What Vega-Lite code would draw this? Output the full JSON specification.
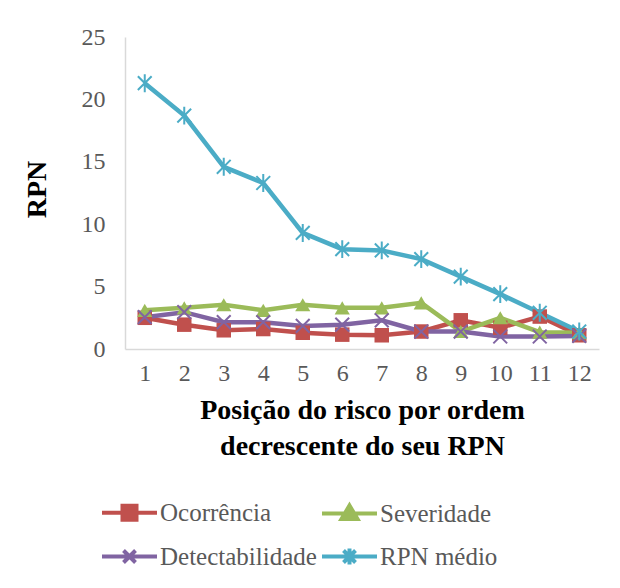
{
  "$schema": "https://vega.github.io/schema/vega-lite/v6.json",
  "width": 474,
  "height": 312,
  "padding": {"left": 23, "top": 25, "right": 10, "bottom": 5},
  "background": "white",
  "config": {
    "view": {"stroke": null},
    "font": "Liberation Serif",
    "legend": {"labelFont": "Liberation Serif", "padding": 0}
  },
  "data": {
    "values": [
      {"pos": 1, "series": "Ocorrência", "value": 2.5},
      {"pos": 2, "series": "Ocorrência", "value": 1.95},
      {"pos": 3, "series": "Ocorrência", "value": 1.5},
      {"pos": 4, "series": "Ocorrência", "value": 1.6},
      {"pos": 5, "series": "Ocorrência", "value": 1.3},
      {"pos": 6, "series": "Ocorrência", "value": 1.15},
      {"pos": 7, "series": "Ocorrência", "value": 1.1},
      {"pos": 8, "series": "Ocorrência", "value": 1.4},
      {"pos": 9, "series": "Ocorrência", "value": 2.3},
      {"pos": 10, "series": "Ocorrência", "value": 1.7},
      {"pos": 11, "series": "Ocorrência", "value": 2.6},
      {"pos": 12, "series": "Ocorrência", "value": 1.1},
      {"pos": 1, "series": "Severidade", "value": 3.1},
      {"pos": 2, "series": "Severidade", "value": 3.3},
      {"pos": 3, "series": "Severidade", "value": 3.55},
      {"pos": 4, "series": "Severidade", "value": 3.1},
      {"pos": 5, "series": "Severidade", "value": 3.55},
      {"pos": 6, "series": "Severidade", "value": 3.3},
      {"pos": 7, "series": "Severidade", "value": 3.3},
      {"pos": 8, "series": "Severidade", "value": 3.7},
      {"pos": 9, "series": "Severidade", "value": 1.4},
      {"pos": 10, "series": "Severidade", "value": 2.5},
      {"pos": 11, "series": "Severidade", "value": 1.35},
      {"pos": 12, "series": "Severidade", "value": 1.3},
      {"pos": 1, "series": "Detectabilidade", "value": 2.55},
      {"pos": 2, "series": "Detectabilidade", "value": 2.95},
      {"pos": 3, "series": "Detectabilidade", "value": 2.15},
      {"pos": 4, "series": "Detectabilidade", "value": 2.15},
      {"pos": 5, "series": "Detectabilidade", "value": 1.85},
      {"pos": 6, "series": "Detectabilidade", "value": 1.95},
      {"pos": 7, "series": "Detectabilidade", "value": 2.3},
      {"pos": 8, "series": "Detectabilidade", "value": 1.4},
      {"pos": 9, "series": "Detectabilidade", "value": 1.4},
      {"pos": 10, "series": "Detectabilidade", "value": 1.0},
      {"pos": 11, "series": "Detectabilidade", "value": 1.0},
      {"pos": 12, "series": "Detectabilidade", "value": 1.05},
      {"pos": 1, "series": "RPN médio", "value": 21.3},
      {"pos": 2, "series": "RPN médio", "value": 18.7},
      {"pos": 3, "series": "RPN médio", "value": 14.6},
      {"pos": 4, "series": "RPN médio", "value": 13.3},
      {"pos": 5, "series": "RPN médio", "value": 9.3},
      {"pos": 6, "series": "RPN médio", "value": 8.0},
      {"pos": 7, "series": "RPN médio", "value": 7.9},
      {"pos": 8, "series": "RPN médio", "value": 7.2},
      {"pos": 9, "series": "RPN médio", "value": 5.8},
      {"pos": 10, "series": "RPN médio", "value": 4.4},
      {"pos": 11, "series": "RPN médio", "value": 2.9},
      {"pos": 12, "series": "RPN médio", "value": 1.4}
    ]
  },
  "encoding": {
    "x": {
      "field": "pos",
      "type": "ordinal",
      "scale": {"type": "point", "padding": 0.5},
      "axis": {
        "title": ["Posição do risco por ordem", "decrescente do seu RPN"],
        "titleFontSize": 28,
        "titleFontWeight": "bold",
        "titleColor": "#000000",
        "titleLineHeight": 36,
        "titlePadding": 11,
        "labelAngle": 0,
        "labelFontSize": 24,
        "labelColor": "#595959",
        "labelPadding": 12,
        "ticks": false,
        "domainColor": "#D9D9D9",
        "domainWidth": 1.5,
        "grid": false
      }
    },
    "y": {
      "field": "value",
      "type": "quantitative",
      "scale": {"domain": [0, 25], "nice": false},
      "axis": {
        "title": "RPN",
        "titleFontSize": 28,
        "titleFontWeight": "bold",
        "titleColor": "#000000",
        "titlePadding": 30,
        "titleY": 152,
        "values": [0, 5, 10, 15, 20, 25],
        "labelFontSize": 24,
        "labelColor": "#595959",
        "labelPadding": 20,
        "ticks": false,
        "domainColor": "#D9D9D9",
        "domainWidth": 1.5,
        "grid": false
      }
    }
  },
  "layer": [
    {
      "mark": {"type": "line", "strokeWidth": 4.5},
      "encoding": {
        "color": {
          "field": "series",
          "type": "nominal",
          "scale": {
            "domain": ["Ocorrência", "Severidade", "Detectabilidade", "RPN médio"],
            "range": ["#C0504D", "#9BBB59", "#8064A2", "#4BACC6"]
          },
          "legend": {
            "title": null,
            "orient": "none",
            "legendX": -8,
            "legendY": 463,
            "columns": 2,
            "direction": "horizontal",
            "columnPadding": -3,
            "rowPadding": 12,
            "symbolSize": 400,
            "symbolStrokeWidth": 4,
            "labelFont": "Liberation Serif",
            "labelFontSize": 25,
            "labelColor": "#595959",
            "labelOffset": 18,
            "labelLimit": 300,
            "encode": {
              "symbols": {
                "update": {
                  "shape": {
                    "signal": "datum.value === 'Ocorrência' ? 'M-2.75,0H2.75M-0.7,-0.7H0.7V0.7H-0.7Z' : datum.value === 'Severidade' ? 'M-2.75,0H2.75M0,-0.8L0.8,0.55L-0.8,0.55Z' : datum.value === 'Detectabilidade' ? 'M-2.75,0H2.75M-0.6,-0.6L0.6,0.6M-0.6,0.6L0.6,-0.6' : 'M-2.75,0H2.75M-0.6,-0.6L0.6,0.6M-0.6,0.6L0.6,-0.6M0,-0.8V0.8'"
                  },
                  "fill": {"signal": "scale('color', datum.value)"},
                  "stroke": {"signal": "scale('color', datum.value)"}
                }
              }
            }
          }
        }
      }
    },
    {
      "transform": [{"filter": {"field": "series", "equal": "Ocorrência"}}],
      "mark": {"type": "point", "shape": "square", "filled": true, "size": 210, "color": "#C0504D", "opacity": 1}
    },
    {
      "transform": [{"filter": {"field": "series", "equal": "Severidade"}}],
      "mark": {"type": "point", "shape": "triangle-up", "filled": true, "size": 230, "color": "#9BBB59", "opacity": 1}
    },
    {
      "transform": [{"filter": {"field": "series", "equal": "Detectabilidade"}}],
      "mark": {"type": "point", "shape": "M-1,-1L1,1M-1,1L1,-1", "filled": false, "size": 190, "color": "#8064A2", "strokeWidth": 2, "opacity": 1}
    },
    {
      "transform": [{"filter": {"field": "series", "equal": "RPN médio"}}],
      "mark": {"type": "point", "shape": "M-1,-1L1,1M-1,1L1,-1M0,-1.3L0,1.3", "filled": false, "size": 190, "color": "#4BACC6", "strokeWidth": 2, "opacity": 1}
    }
  ]
}
